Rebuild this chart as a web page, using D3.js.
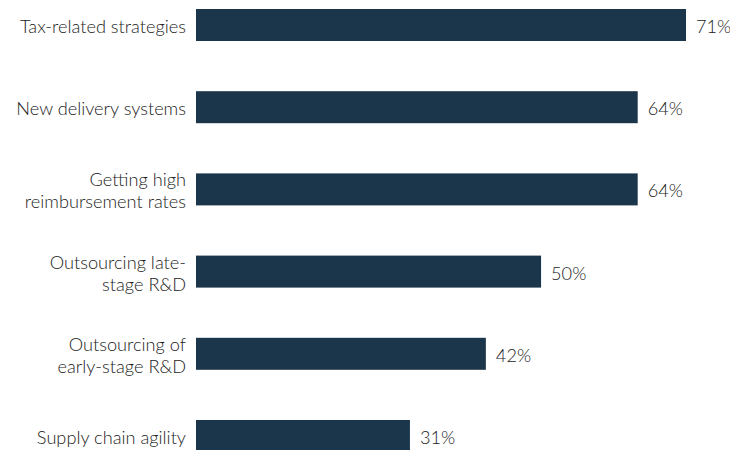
<!DOCTYPE html>
<html><head><meta charset="utf-8">
<script src="https://cdn.jsdelivr.net/npm/d3@7"></script>
<style>body{margin:0;background:#fff}svg{display:block}</style>
</head><body>
<svg id="c" width="730" height="450"></svg>
<script>
const categories = [
  ["Tax-related strategies"],
  ["New delivery systems"],
  ["Getting high", "reimbursement rates"],
  ["Outsourcing late-", "stage R&D"],
  ["Outsourcing of", "early-stage R&D"],
  ["Supply chain agility"]
];
const values = [71, 64, 64, 50, 42, 31];
const valueLabels = ["71%", "64%", "64%", "50%", "42%", "31%"];

const svg = d3.select("#c");
const x = d3.scaleLinear().domain([0, 71]).range([196, 686]);
const step = 82.2, bh = 32;
const yb = d3.scaleLinear().domain([0, 1]).range([9, 9 + step]);

const color = "#1b364b";
const font = "Lato, sans-serif";
const textColor = "#222222";
const fs = 18.2;

const g = svg.append("g");
g.selectAll("rect").data(values).join("rect")
  .attr("x", x(0))
  .attr("y", (d, i) => yb(i))
  .attr("width", d => x(d) - x(0))
  .attr("height", bh)
  .attr("fill", color);

g.selectAll("text.val").data(values).join("text")
  .attr("class", "val")
  .attr("x", d => x(d) + 10)
  .attr("y", (d, i) => yb(i) + bh / 2 + 8)
  .attr("font-family", font)
  .attr("font-weight", 300)
  .attr("font-size", fs)
  .attr("fill", textColor)
  .text((d, i) => valueLabels[i]);

const lh = 22;
categories.forEach((lines, i) => {
  const cy = yb(i) + bh / 2 + 8;
  const t = g.append("text")
    .attr("text-anchor", "end")
    .attr("font-family", font)
    .attr("font-weight", 300)
    .attr("font-size", fs)
    .attr("fill", textColor);
  lines.forEach((ln, j) => {
    t.append("tspan")
      .attr("x", 186)
      .attr("y", cy + (j - (lines.length - 1) / 2) * lh)
      .text(ln);
  });
});
</script>
</body></html>
